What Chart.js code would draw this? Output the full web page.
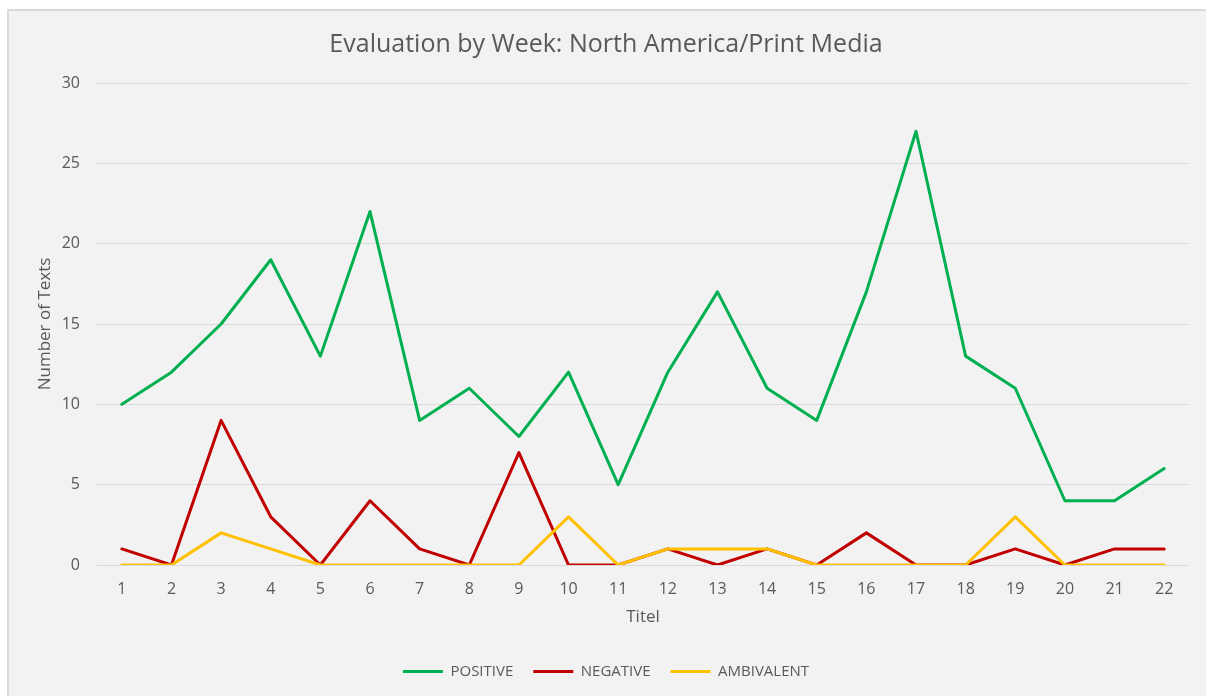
<!DOCTYPE html>
<html>
<head>
<meta charset="utf-8">
<script src="https://cdn.jsdelivr.net/npm/chart.js@4"></script>
<style>
  html, body { margin: 0; padding: 0; background: #ffffff; width: 1206px; height: 696px; overflow: hidden; }
  #frame { position: absolute; left: 7px; top: 9px; width: 1210px; height: 700px; background: #f2f2f2; border-left: 2px solid #d9d9d9; border-top: 2px solid #d9d9d9; }
  #wrap { position: absolute; left: 0; top: 0; width: 1206px; height: 696px; }
</style>
</head>
<body>
<div id="frame"></div>
<div id="wrap"><canvas id="c" width="1206" height="696"></canvas></div>
<script>
const categories = ['1','2','3','4','5','6','7','8','9','10','11','12','13','14','15','16','17','18','19','20','21','22'];
const positive   = [10,12,15,19,13,22, 9,11, 8,12, 5,12,17,11, 9,17,27,13,11, 4, 4, 6];
const negative   = [ 1, 0, 9, 3, 0, 4, 1, 0, 7, 0, 0, 1, 0, 1, 0, 2, 0, 0, 1, 0, 1, 1];
const ambivalent = [ 0, 0, 2, 1, 0, 0, 0, 0, 0, 3, 0, 1, 1, 1, 0, 0, 0, 0, 3, 0, 0, 0];
const yTicks = [0, 5, 10, 15, 20, 25, 30];

const FONT = "'Open Sans', 'Noto Sans', sans-serif";
const TXT = '#595959';

new Chart(document.getElementById('c'), {
  type: 'line',
  data: {
    labels: categories,
    datasets: [
      { label: 'POSITIVE', data: positive, borderColor: '#00B050', backgroundColor: '#00B050', borderWidth: 3, order: 2 },
      { label: 'NEGATIVE', data: negative, borderColor: '#C00000', backgroundColor: '#C00000', borderWidth: 3, order: 1 },
      { label: 'AMBIVALENT', data: ambivalent, borderColor: '#FFC000', backgroundColor: '#FFC000', borderWidth: 3, order: 0 }
    ]
  },
  options: {
    responsive: false,
    animation: false,
    devicePixelRatio: 1,
    layout: { padding: { left: 6, right: 0, top: 0, bottom: 7 } },
    elements: {
      line: { borderWidth: 3, tension: 0, borderCapStyle: 'round', borderJoinStyle: 'round' },
      point: { radius: 0, hoverRadius: 0 }
    },
    plugins: {
      title: {
        display: true,
        text: 'Evaluation by Week: North America/Print Media',
        color: TXT,
        font: { family: FONT, size: 25, weight: 'normal', lineHeight: 1.2 },
        padding: { top: 30, bottom: 23 }
      },
      legend: {
        position: 'bottom',
        labels: {
          color: TXT,
          font: { family: FONT, size: 15 },
          usePointStyle: true,
          pointStyle: 'line',
          pointStyleWidth: 40,
          padding: 20,
          sort: (a, b) => a.datasetIndex - b.datasetIndex
        }
      },
      tooltip: { enabled: false }
    },
    scales: {
      x: {
        offset: true,
        grid: { display: false, drawTicks: false },
        border: { display: false },
        ticks: { color: TXT, font: { family: FONT, size: 16 }, padding: 15, maxRotation: 0, autoSkip: false },
        title: { display: true, text: 'Titel', color: TXT, font: { family: FONT, size: 17, lineHeight: 1.2 }, padding: { top: 4, bottom: 17 } },
        afterFit: (s) => { s.height = 79; }
      },
      y: {
        min: 0, max: 30,
        afterBuildTicks: (s) => { s.ticks = yTicks.map(v => ({ value: v })); },
        grid: { color: '#d9d9d9', lineWidth: 1, drawTicks: false },
        border: { display: false },
        ticks: { color: TXT, font: { family: FONT, size: 16 }, padding: 17 },
        title: { display: true, text: 'Number of Texts', color: TXT, font: { family: FONT, size: 17, lineHeight: 1.2 }, padding: { top: 29, bottom: 4 } },
        afterFit: (s) => { s.width = 91; }
      },
      yRight: {
        position: 'right',
        min: 0, max: 1,
        grid: { display: false, drawTicks: false },
        border: { display: false },
        ticks: { display: false },
        afterFit: (s) => { s.width = 17; }
      }
    }
  }
});
</script>
</body>
</html>
